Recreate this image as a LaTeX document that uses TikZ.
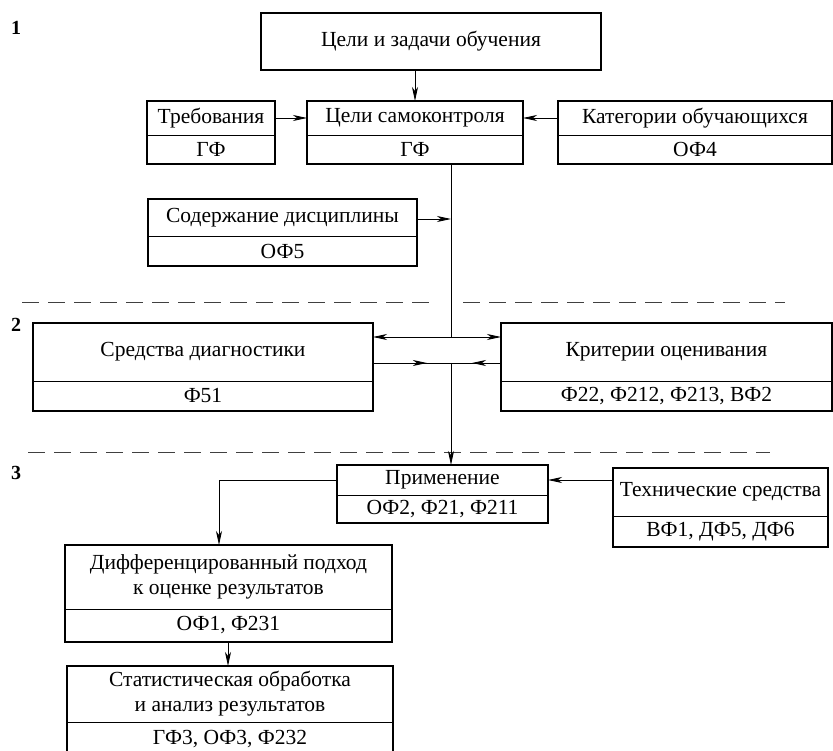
\documentclass[tikz,border=0pt]{standalone}
\usepackage{fontspec}
\setmainfont{Liberation Serif}
\usetikzlibrary{arrows.meta,decorations.markings}
\tikzset{
  part/.style={draw, line width=0.8pt, inner sep=0pt, outer sep=0pt, align=center,
    font=\fontsize{21.5}{25}\selectfont},
  frame/.style={line width=1.7pt},
  conn/.style={line width=0.9pt},
  tip/.tip={Stealth[length=14pt,width=6pt,inset=4pt]},
  arr/.style={conn, -tip},
  dash line/.style={line width=1pt, dash pattern=on 17pt off 9pt, draw=black!75},
  lvl/.style={font=\fontsize{20}{22}\selectfont\bfseries, inner sep=0pt},
  midarr/.style={conn, postaction={decorate}, decoration={markings,
    mark=at position #1 with {\arrow{tip}}}}
}
\newcommand\twobox[8]{%
  \node[part, minimum width={#5-#2}, minimum height={#4-#3}] (#1t) at ({(#2+#5)/2},{(#3+#4)/2}) {#7};
  \node[part, minimum width={#5-#2}, minimum height={#6-#4}] (#1b) at ({(#2+#5)/2},{(#4+#6)/2}) {#8};
  \draw[frame] (#1t.north west) rectangle (#1b.south east);
}
\begin{document}
\begin{tikzpicture}[x=1pt,y=-1pt]
\useasboundingbox (0,0) rectangle (833,751);
% level labels
\node[lvl] (l1) at (16,28) {1};
\node[lvl] (l2) at (16,325) {2};
\node[lvl] (l3) at (16,473) {3};
% dashed separators
\draw[dash line] (22,303) -- (437,303);
\draw[dash line] (463,303) -- (785,303);
\draw[dash line] (28,452) -- (770,452);
% top box
\node[part, line width=1.7pt, minimum width=340pt, minimum height=57pt] (A) at (431,41.5) {Цели и задачи обучения};
% row 1
\twobox{R}{147}{101}{135}{275}{164}{Требования}{ГФ}
\twobox{B}{307}{101}{135}{523}{164}{Цели самоконтроля}{ГФ}
\twobox{K}{558}{101}{135}{832}{164}{Категории обучающихся}{ОФ4}
\twobox{S}{148}{199}{236}{417}{266}{Содержание дисциплины}{ОФ5}
% row 2
\twobox{D}{33}{323}{381}{373}{411}{Средства диагностики}{Ф51}
\twobox{C}{501}{323}{381}{832}{411}{Критерии оценивания}{Ф22, Ф212, Ф213, ВФ2}
% row 3
\twobox{P}{337}{465}{495}{548}{523}{Применение}{ОФ2, Ф21, Ф211}
\twobox{T}{613}{468}{516}{828}{547}{Технические средства}{ВФ1, ДФ5, ДФ6}
\twobox{F}{65}{545}{609}{392}{642}{Дифференцированный подход\\к оценке результатов}{ОФ1, Ф231}
\twobox{G}{67}{666}{722}{393}{756}{Статистическая обработка\\и анализ результатов}{ГФ3, ОФ3, Ф232}
% junction coordinates
\coordinate (j0) at (451,164);
\coordinate (js) at (451,219);
\coordinate (j1) at (451,337);
\coordinate (j2) at (451,363);
\coordinate (jp) at (219,480);
% connectors
\draw[arr] (A.south -| Bt.north) -- (Bt.north);
\draw[arr] (Rt.east) -- (Bt.west);
\draw[arr] (Kt.west) -- (Bt.east |- Kt.west);
\draw[conn] (j0) -- (j1);
\draw[arr] (St.east |- js) -- (js);
\draw[arr] (j1) -- (j1 -| Dt.east);
\draw[arr] (j1) -- (j1 -| Ct.west);
\draw[midarr=0.69] (j2 -| Dt.east) -- (j2);
\draw[midarr=0.58] (j2 -| Ct.west) -- (j2);
\draw[arr] (j2) -- (Pt.north -| j2);
\draw[arr] (Pt.west) -- (jp) -- (jp |- Ft.north);
\draw[arr] (Tt.west |- Pt.east) -- (Pt.east);
\draw[arr] (Fb.south -| 228,0) -- (Gt.north -| 228,0);
\end{tikzpicture}
\end{document}
